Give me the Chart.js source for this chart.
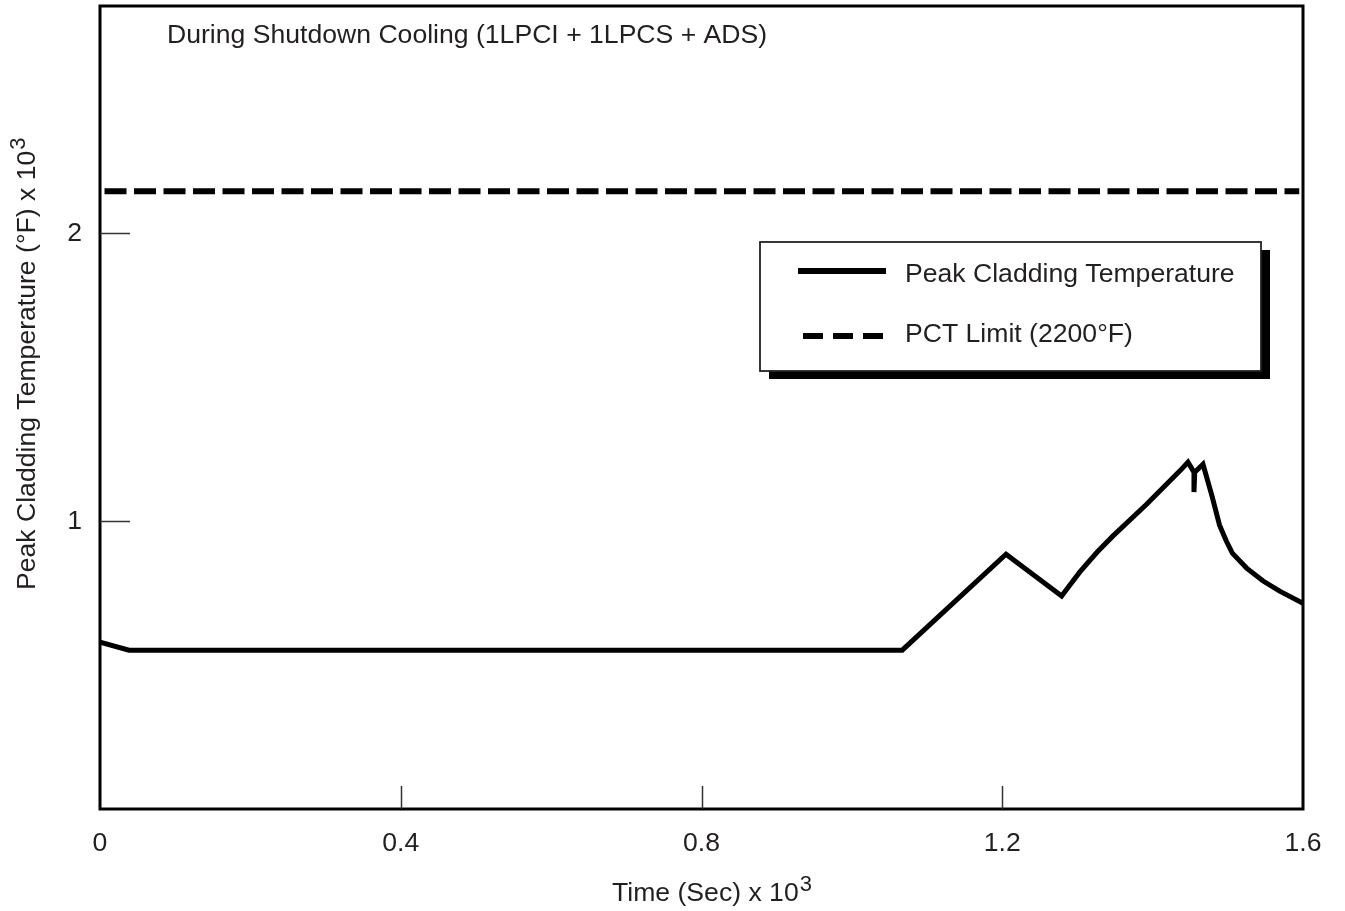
<!DOCTYPE html>
<html>
<head>
<meta charset="utf-8">
<script src="https://cdn.jsdelivr.net/npm/chart.js@4/dist/chart.umd.min.js"></script>
<style>
html,body{margin:0;padding:0;background:#fff;}
#c{display:block;}
</style>
</head>
<body>
<canvas id="c" width="1345" height="911"></canvas>
<script>
// ---- data (time in sec x 10^3, temperature in °F x 10^3) ----
const timeKs = [0, 0.0386, 1.067, 1.205, 1.279, 1.290, 1.303, 1.326, 1.347, 1.392, 1.436, 1.447, 1.455, 1.455, 1.456, 1.467, 1.479, 1.489, 1.498, 1.506, 1.525, 1.547, 1.569, 1.6];
const pctKF  = [0.580, 0.552, 0.552, 0.885, 0.740, 0.778, 0.823, 0.892, 0.948, 1.059, 1.174, 1.205, 1.170, 1.101, 1.170, 1.198, 1.087, 0.986, 0.931, 0.889, 0.837, 0.792, 0.757, 0.715];
const limitTime  = [0.006, 1.595];
const limitValue = [2.146, 2.146];
const xTickValues = [0, 0.4, 0.8, 1.2, 1.6];
const xTickLabels = ['0', '0.4', '0.8', '1.2', '1.6'];
const yTickValues = [1, 2];
const yTickLabels = ['1', '2'];
const seriesLabels = ['Peak Cladding Temperature', 'PCT Limit (2200\u00B0F)'];
const titleText = 'During Shutdown Cooling (1LPCI + 1LPCS + ADS)';
const xTitleParts = ['Time (Sec) x 10', '3'];
const yTitleParts = ['Peak Cladding Temperature (\u00B0F) x 10', '3'];

const FONT = "'Liberation Sans', Arial, Helvetica, sans-serif";
const FS = 26.6;
const TEXT = '#231f20';
Chart.defaults.font.family = FONT;
Chart.defaults.color = TEXT;

const decor = {
  id: 'decor',
  afterDraw(chart) {
    const ctx = chart.ctx;
    const a = chart.chartArea;
    const xs = chart.scales.x, ys = chart.scales.y;
    ctx.save();
    // frame
    ctx.strokeStyle = '#000';
    ctx.lineWidth = 3;
    ctx.strokeRect(a.left, a.top, a.right - a.left, a.bottom - a.top);
    // inward tick marks
    ctx.strokeStyle = '#333';
    ctx.lineWidth = 1.5;
    xTickValues.forEach(v => {
      if (v <= xs.min || v >= xs.max) return;
      const px = Math.round(xs.getPixelForValue(v)) + 0.5;
      ctx.beginPath(); ctx.moveTo(px, a.bottom); ctx.lineTo(px, a.bottom - 23); ctx.stroke();
    });
    yTickValues.forEach(v => {
      const py = Math.round(ys.getPixelForValue(v)) + 0.5;
      ctx.beginPath(); ctx.moveTo(a.left, py); ctx.lineTo(a.left + 30, py); ctx.stroke();
    });
    // title inside plot
    ctx.fillStyle = TEXT;
    ctx.textAlign = 'left';
    ctx.textBaseline = 'alphabetic';
    ctx.font = FS + 'px ' + FONT;
    ctx.fillText(titleText, 167, 43);
    // x axis title with superscript
    let w = ctx.measureText(xTitleParts[0]).width;
    ctx.fillText(xTitleParts[0], 612, 901);
    ctx.font = '22px ' + FONT;
    ctx.fillText(xTitleParts[1], 612 + w + 1, 891);
    // y axis title, rotated
    ctx.save();
    ctx.translate(35, 590);
    ctx.rotate(-Math.PI / 2);
    ctx.font = FS + 'px ' + FONT;
    w = ctx.measureText(yTitleParts[0]).width;
    ctx.fillText(yTitleParts[0], 0, 0);
    ctx.font = '22px ' + FONT;
    ctx.fillText(yTitleParts[1], w + 1, -10);
    ctx.restore();
    // legend box with drop shadow
    const bx = 760, by = 242, bw = 501, bh = 129;
    ctx.fillStyle = '#000';
    ctx.fillRect(bx + 9, by + 8, bw, bh);
    ctx.fillStyle = '#fff';
    ctx.fillRect(bx, by, bw, bh);
    ctx.strokeStyle = '#222';
    ctx.lineWidth = 1.8;
    ctx.strokeRect(bx, by, bw, bh);
    const rows = [
      { y: 271, x0: 798, x1: 886, tb: 282, dash: [20, 10] },
      { y: 336, x0: 803, x1: 883, tb: 342, dash: [20, 10] }
    ];
    chart.data.datasets.forEach((ds, i) => {
      const r = rows[i];
      ctx.strokeStyle = ds.borderColor;
      ctx.lineWidth = 6;
      ctx.setLineDash(ds.borderDash ? r.dash : []);
      ctx.beginPath(); ctx.moveTo(r.x0, r.y); ctx.lineTo(r.x1, r.y); ctx.stroke();
      ctx.setLineDash([]);
      ctx.fillStyle = TEXT;
      ctx.font = FS + 'px ' + FONT;
      ctx.fillText(ds.label, 905, r.tb);
    });
    ctx.restore();
  }
};

new Chart(document.getElementById('c').getContext('2d'), {
  type: 'line',
  data: {
    datasets: [
      {
        label: seriesLabels[0],
        data: timeKs.map((t, i) => ({ x: t, y: pctKF[i] })),
        borderColor: '#000', borderWidth: 5, pointRadius: 0, tension: 0, fill: false,
        borderJoinStyle: 'miter'
      },
      {
        label: seriesLabels[1],
        data: limitTime.map((t, i) => ({ x: t, y: limitValue[i] })),
        borderColor: '#000', borderWidth: 6, borderDash: [22, 7.5], pointRadius: 0, fill: false
      }
    ]
  },
  options: {
    responsive: false,
    animation: false,
    devicePixelRatio: 1,
    layout: { autoPadding: false, padding: { top: 6, right: 42, bottom: 0, left: 0 } },
    plugins: { legend: { display: false }, tooltip: { enabled: false }, title: { display: false } },
    scales: {
      x: {
        type: 'linear', min: 0, max: 1.6,
        afterBuildTicks: s => { s.ticks = xTickValues.map(v => ({ value: v })); },
        afterFit: s => { s.height = 102; s.paddingLeft = 0; s.paddingRight = 0; },
        grid: { display: false, drawTicks: false },
        border: { display: false },
        ticks: {
          autoSkip: false, maxRotation: 0, padding: 19,
          font: { size: FS }, color: TEXT,
          callback: v => xTickLabels[xTickValues.indexOf(v)]
        }
      },
      y: {
        type: 'linear', min: 0, max: 2.79,
        afterBuildTicks: s => { s.ticks = yTickValues.map(v => ({ value: v })); },
        afterFit: s => { s.width = 100; s.paddingTop = 0; s.paddingBottom = 0; },
        grid: { display: false, drawTicks: false },
        border: { display: false },
        ticks: {
          autoSkip: false, padding: 18,
          font: { size: FS }, color: TEXT,
          callback: v => yTickLabels[yTickValues.indexOf(v)]
        }
      }
    }
  },
  plugins: [decor]
});
</script>
</body>
</html>
